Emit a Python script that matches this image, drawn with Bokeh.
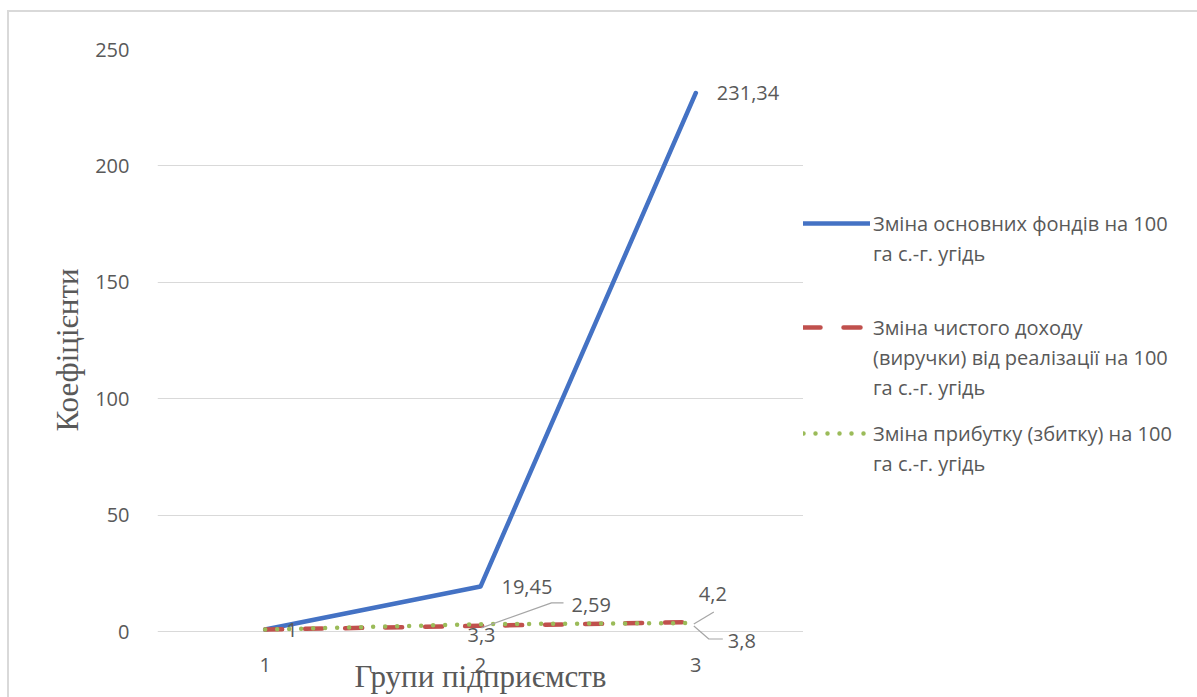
from bokeh.plotting import figure
from bokeh.layouts import row
from bokeh.models import (ColumnDataSource, FactorRange, Range1d, FixedTicker,
                          Legend, LegendItem)
from bokeh.core.properties import value
from bokeh.embed import file_html
from bokeh.resources import INLINE

# ---- data -------------------------------------------------------------
groups = ["1", "2", "3"]
fixed_assets = [1, 19.45, 231.34]      # Зміна основних фондів на 100 га с.-г. угідь
net_revenue = [1, 2.59, 4.2]           # Зміна чистого доходу (виручки) від реалізації
profit = [1, 3.3, 3.8]                 # Зміна прибутку (збитку)
y_ticks = [0, 50, 100, 150, 200, 250]

# legend captions, one list of wrapped lines per series
series_names = [
    ["Зміна основних фондів на 100", "га с.-г. угідь"],
    ["Зміна чистого доходу", "(виручки) від реалізації на 100", "га с.-г. угідь"],
    ["Зміна прибутку (збитку) на 100", "га с.-г. угідь"],
]
x_title = "Групи підприємств"
y_title = "Коефіцієнти"

# ---- layout constants ---------------------------------------------------
W_CHART, W_LEG, H = 794, 394, 685
BL, BT, BB = 148, 37, 47
Y0, Y1 = -8, 250
px_per_cat = (W_CHART - BL) / len(groups)
px_per_unit = (H - BT - BB) / (Y1 - Y0)

GREY = "#595959"
FONT = "Open Sans"
SERIF = "Liberation Serif"
FS = "20px"
BLUE, RED, GREEN = "#4472C4", "#C0504D", "#9BBB59"
STYLES = [
    dict(line_color=BLUE, line_width=4.5, line_cap="round", line_join="round"),
    dict(line_color=RED, line_width=4.5, line_dash="17 23", line_cap="round",
         line_join="round"),
    dict(line_color=GREEN, line_width=4.5, line_dash="0 12", line_cap="round",
         line_join="round"),
]


def fmt(v):
    return f"{v:g}".replace(".", ",")


p = figure(x_range=FactorRange(*groups, range_padding=0), y_range=Range1d(Y0, Y1),
           width=W_CHART, height=H, output_backend="svg", toolbar_location=None,
           min_border_left=BL, min_border_right=0, min_border_top=BT,
           min_border_bottom=BB, outline_line_color=None,
           background_fill_color="white", border_fill_color="white")

# axes
p.xgrid.grid_line_color = None
p.ygrid.grid_line_color = "#D9D9D9"
p.ygrid.grid_line_width = 1
p.yaxis.ticker = FixedTicker(ticks=y_ticks)
for ax in (p.xaxis[0], p.yaxis[0]):
    ax.axis_line_color = None
    ax.major_tick_line_color = None
    ax.minor_tick_line_color = None
    ax.major_label_text_color = GREY
    ax.major_label_text_font = FONT
    ax.major_label_text_font_size = FS
    ax.axis_label_text_color = GREY
    ax.axis_label_text_font = SERIF
    ax.axis_label_text_font_size = "31px"
    ax.axis_label_text_font_style = "normal"
p.xaxis.axis_label = x_title
p.yaxis.axis_label = y_title
p.xaxis.major_label_standoff = 1
p.xaxis.axis_label_standoff = -16
p.yaxis.major_label_standoff = 22
p.yaxis.axis_label_standoff = 7

# series lines
p.line(groups, fixed_assets, **STYLES[0])
p.line(groups, net_revenue, **STYLES[1])
p.line(groups, profit, **STYLES[2])

# data labels
lab_style = dict(text_font=value(FONT), text_font_size=FS, text_color=GREY,
                 text_baseline="middle")

blue_src = ColumnDataSource(dict(x=groups, y=fixed_assets,
                                 t=[fmt(v) for v in fixed_assets]))
p.text("x", "y", text="t", source=blue_src, x_offset=21, y_offset=0,
       text_align="left", **lab_style)

red_src = ColumnDataSource(dict(x=groups[1:], y=net_revenue[1:],
                                t=[fmt(v) for v in net_revenue[1:]],
                                dx=[91, 3], dy=[-21, -28]))
p.text("x", "y", text="t", source=red_src, x_offset="dx", y_offset="dy",
       text_align="left", **lab_style)

green_src = ColumnDataSource(dict(x=groups[1:], y=profit[1:],
                                  t=[fmt(v) for v in profit[1:]],
                                  dx=[1, 32], dy=[11, 18],
                                  al=["center", "left"]))
p.text("x", "y", text="t", source=green_src, x_offset="dx", y_offset="dy",
       text_align="al", **lab_style)

# leader lines: pixel offsets from the point they belong to
leaders = [
    (1, net_revenue[1], [(1, 2), (71, -23), (83, -23)]),
    (2, net_revenue[2], [(-2, 2), (18, -10)]),
    (2, profit[2], [(-2, 3), (13, 16), (27, 16)]),
]
xs, ys = [], []
for idx, val, pts in leaders:
    xs.append([idx + 0.5 + dx / px_per_cat for dx, dy in pts])
    ys.append([val - dy / px_per_unit for dx, dy in pts])
p.multi_line(xs, ys, line_color="#A6A6A6", line_width=1.2)

# ---- legend column to the right of the chart -----------------------------
leg = figure(width=W_LEG, height=H, output_backend="svg", toolbar_location=None,
             x_range=Range1d(0, W_LEG), y_range=Range1d(0, H),
             x_axis_location=None, y_axis_location=None, min_border=0,
             outline_line_color=None, background_fill_color="white",
             border_fill_color="white")
leg.grid.visible = False

# swatch renderers carry only the line styles (no visible data)
nan = float("nan")
swatches = [leg.line([nan], [nan], **st) for st in STYLES]
blank = leg.line([nan], [nan], line_alpha=0)

# one legend block per series, one row per caption line
ROW_H = 30
block_bottoms = [382, 248, 172]     # px above the bottom edge
for sw, lines, y_pos in zip(swatches, series_names, block_bottoms):
    items = [LegendItem(label=lines[0], renderers=[sw])]
    items += [LegendItem(label=ln, renderers=[blank]) for ln in lines[1:]]
    leg.add_layout(Legend(items=items, location=(0, y_pos), glyph_width=67,
                          glyph_height=ROW_H, label_height=ROW_H,
                          label_standoff=3, spacing=0, padding=0, margin=0,
                          border_line_color=None, background_fill_alpha=0,
                          label_text_font=FONT, label_text_font_size=FS,
                          label_text_color=GREY), "center")

page = row(p, leg, styles={"border-top": "2px solid #D9D9D9",
                           "border-left": "2px solid #D9D9D9",
                           "margin-left": "7px", "margin-top": "10px"})

open("out.html", "w").write(file_html(page, INLINE))
